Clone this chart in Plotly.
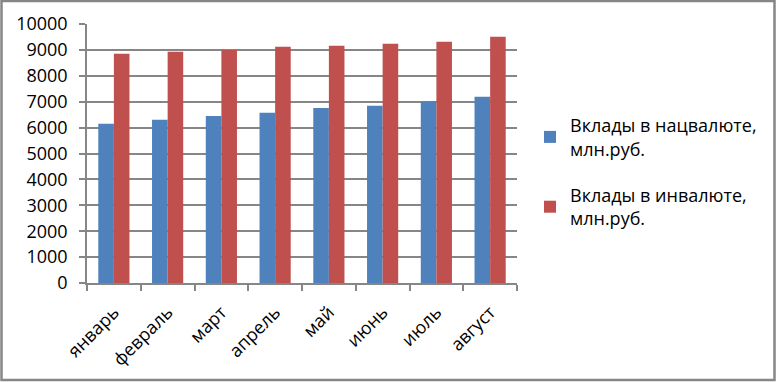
import plotly.graph_objects as go

months = ["январь", "февраль", "март", "апрель", "май", "июнь", "июль", "август"]
national = [6150, 6300, 6450, 6570, 6760, 6840, 7020, 7190]
foreign = [8850, 8930, 9000, 9120, 9160, 9240, 9310, 9510]
series_names = ["Вклады в нацвалюте,<br>млн.руб.", "Вклады в инвалюте,<br>млн.руб."]
y_ticks = [0, 1000, 2000, 3000, 4000, 5000, 6000, 7000, 8000, 9000, 10000]
y_tick_labels = [str(v) for v in y_ticks]

W, H = 777, 382
ML, MR, MT, MB = 87, 260, 24, 99
PW, PH = W - ML - MR, H - MT - MB

def px_x(p):
    return (p - ML) / PW

def px_y(p):
    return (H - MB - p) / PH

font = "Open Sans, sans-serif"
FS = 18

fig = go.Figure()
fig.add_trace(go.Bar(x=months, y=national, name=series_names[0], legendgroup="a",
                     marker=dict(color="#4F81BD", line=dict(width=0))))
fig.add_trace(go.Bar(x=months, y=foreign, name=series_names[1], legendgroup="b",
                     marker=dict(color="#C0504D", line=dict(width=0))))

fig.update_layout(
    width=W, height=H,
    margin=dict(l=ML, r=MR, t=MT, b=MB, pad=0, autoexpand=False),
    paper_bgcolor="white", plot_bgcolor="white",
    barmode="group", bargap=0.42, bargroupgap=0,
    font=dict(family=font, size=FS, color="#000000"),
    showlegend=True,
    legend=dict(x=px_x(530), y=px_y(107), xanchor="left", yanchor="top",
                font=dict(family=font, size=FS, color="#000000"),
                traceorder="grouped", tracegroupgap=20, itemwidth=30,
                bgcolor="rgba(0,0,0,0)"),
    xaxis=dict(type="category", showline=True, linecolor="#868686", linewidth=1.5,
               ticks="outside", tickson="boundaries", ticklen=6, tickcolor="#868686", tickwidth=1.5,
               tickangle=-45, tickfont=dict(family=font, size=FS), showgrid=False, automargin=False,
               ticklabelstandoff=10),
    yaxis=dict(range=[0, 10000], tickmode="array", tickvals=y_ticks, ticktext=y_tick_labels,
               showline=True, linecolor="#868686", linewidth=1.5,
               ticks="outside", ticklen=6, tickcolor="#868686", tickwidth=1.5,
               showgrid=True, gridcolor="#868686", gridwidth=1.5, zeroline=False,
               tickfont=dict(family=font, size=FS), ticklabelstandoff=8, automargin=False),
    shapes=[dict(type="rect", xref="paper", yref="paper",
                 x0=px_x(1.5), x1=px_x(774.5), y0=px_y(380), y1=px_y(1),
                 line=dict(color="#868686", width=2.5), fillcolor="rgba(0,0,0,0)", layer="above")],
)

fig.write_html("out.html", config={"displayModeBar": False},
               post_script="document.body.style.margin='0';document.body.style.overflow='hidden';")
